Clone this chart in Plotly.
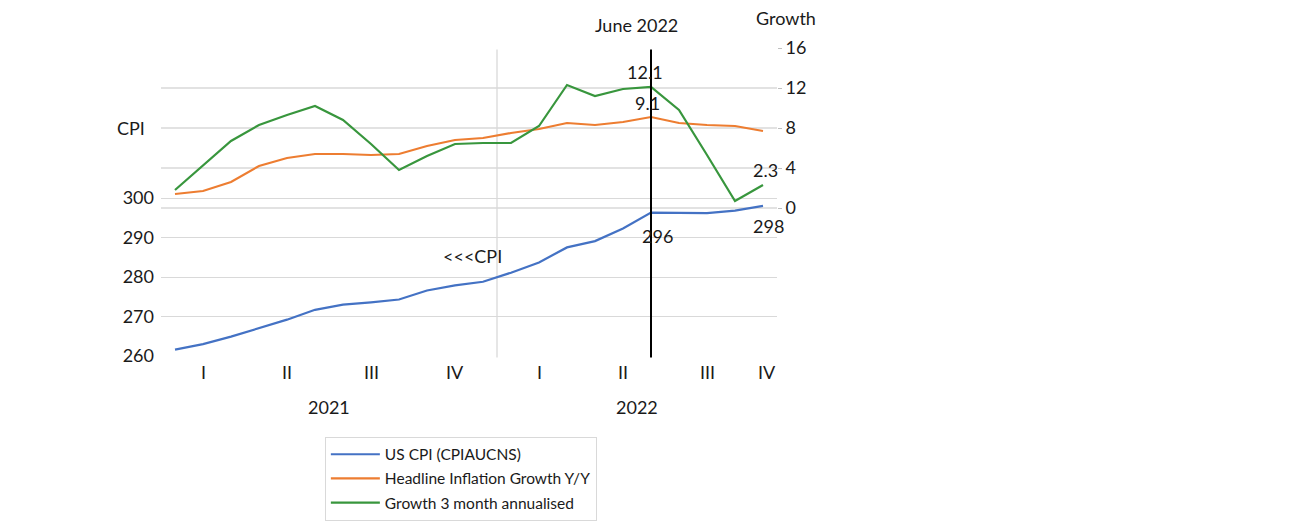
import plotly.graph_objects as go

months = ["2021-01", "2021-02", "2021-03", "2021-04", "2021-05", "2021-06",
          "2021-07", "2021-08", "2021-09", "2021-10", "2021-11", "2021-12",
          "2022-01", "2022-02", "2022-03", "2022-04", "2022-05", "2022-06",
          "2022-07", "2022-08", "2022-09", "2022-10"]
cpi = [261.6, 263.0, 264.9, 267.1, 269.2, 271.7, 273.0, 273.6, 274.3, 276.6, 277.9, 278.8,
       281.1, 283.7, 287.5, 289.1, 292.3, 296.3, 296.3, 296.2, 296.8, 298.0]
yoy = [1.4, 1.7, 2.6, 4.2, 5.0, 5.4, 5.4, 5.3, 5.4, 6.2, 6.8, 7.0,
       7.5, 7.9, 8.5, 8.3, 8.6, 9.1, 8.5, 8.3, 8.2, 7.7]
ann3m = [1.8, 4.3, 6.7, 8.3, 9.3, 10.2, 8.8, 6.4, 3.8, 5.2, 6.4, 6.5,
         6.5, 8.2, 12.3, 11.2, 11.9, 12.1, 9.8, 5.3, 0.7, 2.3]
quarter_labels = ["I", "II", "III", "IV", "I", "II", "III", "IV"]
quarter_centers = [1, 4, 7, 10, 13, 16, 19, 21.15]
year_labels = ["2021", "2022"]
year_centers = [5.5, 16.5]
cpi_ticks = [260, 270, 280, 290, 300]
growth_ticks = [0, 4, 8, 12, 16]
growth_grid = [0, 4, 8, 12]

x = list(range(len(months)))
FONT = "Lato"
FS = 18
BLUE, ORANGE, GREEN = "#4472C4", "#ED7D31", "#38963D"

fig = go.Figure()
fig.add_trace(go.Scatter(x=x, y=cpi, mode="lines", name="US CPI (CPIAUCNS)", legendgroup="a",
                         line=dict(color=BLUE, width=2.2), yaxis="y", customdata=months))
fig.add_trace(go.Scatter(x=x, y=yoy, mode="lines", name="Headline Inflation Growth Y/Y", legendgroup="b",
                         line=dict(color=ORANGE, width=2.2), yaxis="y2", customdata=months))
fig.add_trace(go.Scatter(x=x, y=ann3m, mode="lines", name="Growth 3 month annualised", legendgroup="c",
                         line=dict(color=GREEN, width=2.2), yaxis="y2", customdata=months))

shapes = []
for g in growth_grid:
    shapes.append(dict(type="line", xref="paper", yref="y2", x0=0, x1=1, y0=g, y1=g,
                       line=dict(color="#D9D9D9", width=1.3), layer="below"))
# year separator
shapes.append(dict(type="line", xref="x", yref="paper", x0=11.5, x1=11.5, y0=-0.005, y1=0.995,
                   line=dict(color="#D9D9D9", width=1.3), layer="below"))
# June 2022 marker
shapes.append(dict(type="line", xref="x", yref="paper", x0=17, x1=17, y0=-0.005, y1=0.995,
                   line=dict(color="black", width=2)))

def ann(x, y, text, xref, yref, xshift=0, yshift=0):
    return dict(x=x, y=y, xref=xref, yref=yref, text=text, showarrow=False,
                xanchor="center", yanchor="middle", xshift=xshift, yshift=yshift,
                font=dict(size=FS))

annotations = []
for lab, c in zip(quarter_labels, quarter_centers):
    annotations.append(ann(c, 0, lab, "x", "paper", yshift=-16))
for lab, c in zip(year_labels, year_centers):
    annotations.append(ann(c, 0, lab, "x", "paper", yshift=-51))
annotations += [
    ann(17, 1, "June 2022", "x", "paper", xshift=-15, yshift=23),
    ann(1, 1, "Growth", "paper", "paper", xshift=9, yshift=30),
    ann(0, 8, "CPI", "paper", "y2", xshift=-30),
    ann(17, 12.1, "12.1", "x", "y2", xshift=-6, yshift=15),
    ann(17, 9.1, "9.1", "x", "y2", xshift=-4, yshift=14),
    ann(21, 2.3, "2.3", "x", "y2", xshift=2, yshift=15),
    ann(17, 296.3, "296", "x", "y", xshift=6, yshift=-23),
    ann(21, 298.0, "298", "x", "y", xshift=5, yshift=-20),
    ann(10.64, 285.3, "&lt;&lt;&lt;CPI", "x", "y"),
]

fig.update_layout(
    width=1312, height=527,
    margin=dict(l=153, r=543, t=40, b=179),
    paper_bgcolor="white", plot_bgcolor="white",
    font=dict(family=FONT, size=FS, color="#1a1a1a"),
    showlegend=True,
    legend=dict(x=0.266, y=-0.262, xanchor="left", yanchor="top",
                bordercolor="#D9D9D9", borderwidth=1, bgcolor="white",
                font=dict(size=15.5, family=FONT), itemwidth=49,
                tracegroupgap=1),
    xaxis=dict(range=[-0.5, 21.5], showticklabels=False, showgrid=False,
               zeroline=False, showline=False, ticks=""),
    yaxis=dict(range=[260, 338], tickvals=cpi_ticks, showgrid=True,
               gridcolor="#D9D9D9", gridwidth=1.3, zeroline=False, showline=False,
               ticks="", tickfont=dict(size=FS), ticklabelstandoff=6),
    yaxis2=dict(range=[-14.8, 16], overlaying="y", side="right", tickvals=growth_ticks,
                showgrid=False, zeroline=False, showline=False, ticks="outside",
                ticklen=4, tickcolor="#BFBFBF", tickfont=dict(size=FS)),
    shapes=shapes, annotations=annotations,
)

fig.write_html("out.html")
